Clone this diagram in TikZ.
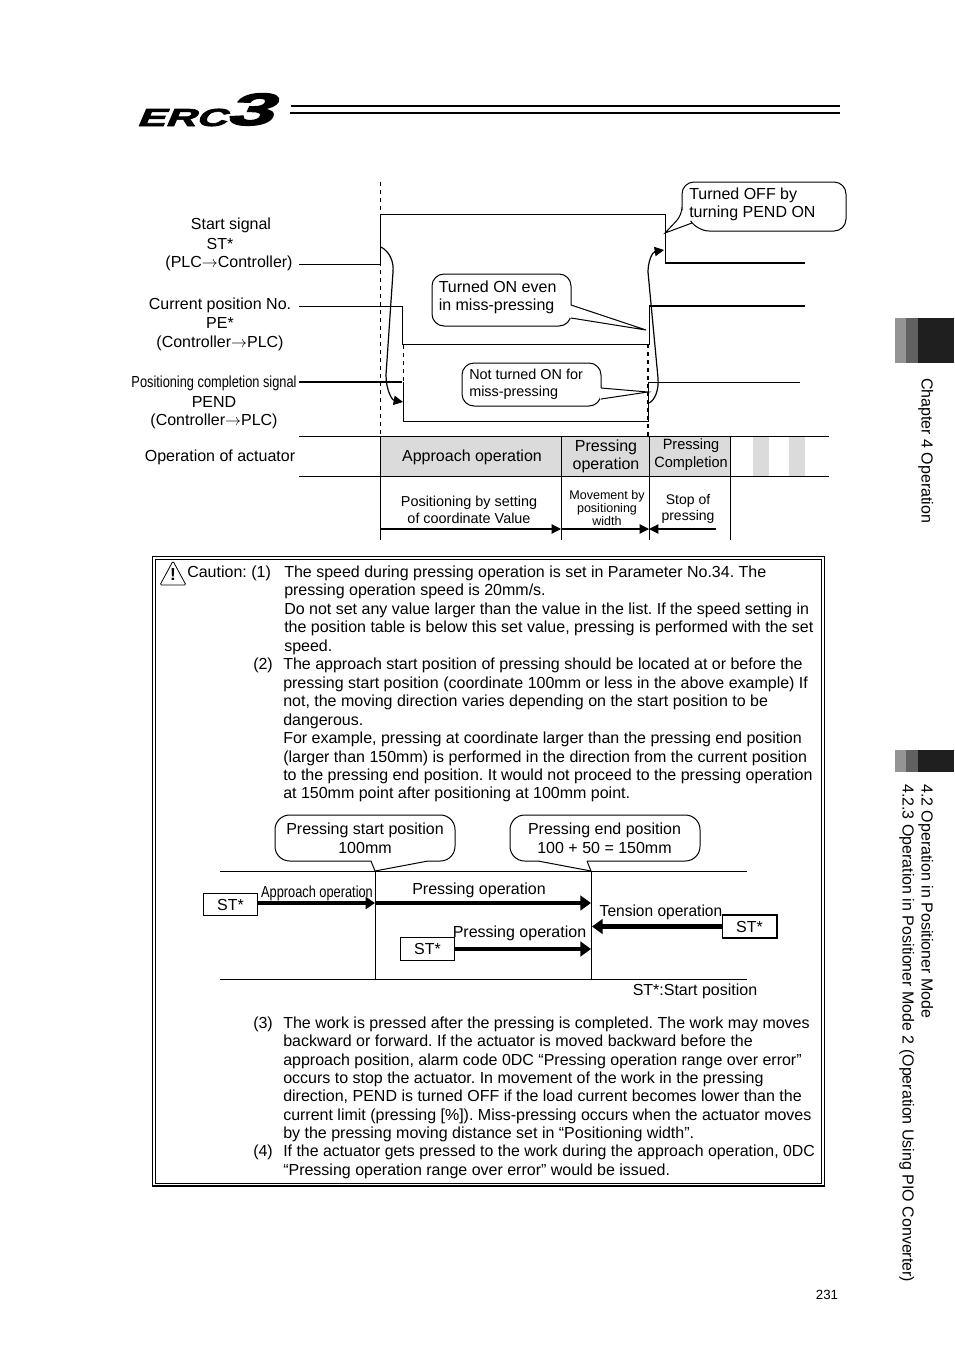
\documentclass[tikz,border=0pt]{standalone}
\usepackage{fontspec}
\setmainfont{Liberation Sans}
\newfontfamily\logofont[FakeBold=2.5,FakeSlant=.25]{Liberation Sans Bold}
\usetikzlibrary{arrows.meta}
\frenchspacing
\newcommand{\graycell}{black!14!white}
\newcommand{\tabdark}{black!88!white}
\newcommand{\tabmid}{black!62!white}
\newcommand{\tablight}{black!42!white}
\tikzset{
  thinline/.style={line width=.75pt},
  thickline/.style={line width=1.5pt},
  bubble/.style={line width=.75pt, rounded corners=9pt, fill=white},
  tailfill/.style={line width=.75pt, fill=white},
  bodytext/.style={anchor=base west, inner sep=0pt, font=\fontsize{12}{14}\selectfont},
  labeltext/.style={align=center, inner sep=0pt, font=\fontsize{12}{14}\selectfont},
  sidetext/.style={rotate=-90, anchor=base west, inner sep=0pt, font=\fontsize{12}{14}\selectfont},
  smalltext/.style={align=center, inner sep=0pt, font=\fontsize{10.8}{13}\selectfont},
  condensed/.style={inner sep=0pt, xscale=.8, font=\fontsize{12}{14}\selectfont},
  stbox/.style={draw, line width=.75pt, fill=white, minimum width=41pt, minimum height=17pt, inner sep=0pt, font=\fontsize{12}{14}\selectfont},
  thinarrow/.style={line width=.9pt, -{Triangle[length=7pt,width=7pt]}},
  movearrow/.style={line width=2.6pt, -{Triangle[length=7pt,width=9pt]}},
  pressarrow/.style={line width=3.6pt, -{Triangle[length=8pt,width=11pt]}},
}

\begin{document}
\begin{tikzpicture}[x=.75pt, y=-.75pt]
    \useasboundingbox (0, 0) rectangle (954, 1350);

    % header
    \node [inner sep=0pt, anchor=base west, xscale=1.72, font=\logofont\fontsize{18.5}{20}\selectfont] (logoletters) at (136, 126) {ERC};
    \node [inner sep=0pt, anchor=base east, xscale=1.85, font=\logofont\fontsize{34}{37}\selectfont] (logothree) at (272, 125) {3};
    \draw [line width=.8pt] (291, 106) -- (840, 106);
    \draw [line width=1.9pt] (290, 113) -- (840, 113);

    % side tabs
    \fill[\tablight] (895, 318) rectangle (906, 363);
    \fill[\tabmid] (906, 318) rectangle (918, 363);
    \fill[\tabdark] (918, 318) rectangle (954, 363);
    \fill[\tablight] (895, 750) rectangle (906, 772);
    \fill[\tabmid] (906, 750) rectangle (918, 772);
    \fill[\tabdark] (918, 750) rectangle (954, 772);
    \node [sidetext] (chaptertab) at (921.5, 378) {Chapter 4 Operation};
    \node [sidetext] (sectiontab) at (921.5, 784) {4.2 Operation in Positioner Mode};
    \node [sidetext] (subsectiontab) at (902.5, 784) {4.2.3 Operation in Positioner Mode 2 (Operation Using PIO Converter)};
    \node [inner sep=0pt, font=\fontsize{10}{12}\selectfont] (pagenumber) at (827, 1295) {231};

    % signal names
    \node [labeltext] (starttitle) at (231, 225.5) {Start signal};
    \node [labeltext] (startsymbol) at (220, 244) {ST*};
    \node [labeltext] (startdirection) at (229, 263) {(PLC$\rightarrow$Controller)};
    \node [labeltext] (currentname) at (220, 324.5) {Current position No.\\PE*\\(Controller$\rightarrow$PLC)};
    \node [condensed] (pendtitle) at (214, 383) {Positioning completion signal};
    \node [labeltext] (pendname) at (214, 412.5) {PEND\\(Controller$\rightarrow$PLC)};
    \node [labeltext] (actuatorname) at (220, 457.5) {Operation of actuator};

    % waveforms
    \draw[thinline, dashed] (380, 182) -- (380, 436);
    \draw[thinline, dashed] (403, 345) -- (403, 382);
    \draw[thickline, dashed] (648, 344) -- (648, 436);
    \draw[thinline] (299, 264) -- (380, 264) -- (380, 214) -- (665, 214) -- (665, 263);
    \draw[thickline] (665, 263) -- (805, 263);
    \draw[thinline] (299, 306) -- (402, 306) -- (402, 344) -- (649, 344) -- (649, 306);
    \draw[thickline] (649, 306) -- (805, 306);
    \draw[thickline] (299, 382) -- (402, 382);
    \draw[thinline] (403, 382) -- (403, 421) -- (648, 421) -- (648, 382) -- (800, 382);

    % curved arrows
    \draw[thinarrow] (381, 247) .. controls (390, 252) and (394, 262) .. (393, 272) -- (386, 375) .. controls (386, 390) and (392, 400) .. (403, 402);
    \draw[thinarrow] (649, 403) .. controls (655, 400) and (659, 390) .. (658, 378) -- (648, 272) .. controls (648, 262) and (652, 252) .. (664, 250);

    % callouts
    \draw[bubble] (682, 215) -- (682, 182) -- (846, 182) -- (846, 231) -- (697, 231) [sharp corners] -- (692, 223) -- (665, 233) [rounded corners=6pt] -- (682, 215) -- cycle;
    \draw[bubble] (571, 305) -- (571, 274) -- (432, 274) -- (432, 326) -- (571, 326) -- (571, 318);
    \fill[white] (570, 305) -- (646, 330) -- (570, 318) -- cycle;
    \draw[thinline] (571, 305) -- (646, 330) -- (571, 318);
    \draw[bubble] (601, 388) -- (601, 363) -- (462, 363) -- (462, 406) -- (601, 406) -- (601, 399);
    \fill[white] (600, 388) -- (648, 392) -- (600, 399) -- cycle;
    \draw[thinline] (601, 388) -- (648, 392) -- (601, 399);
    \node [bodytext] (offline) at (689, 199) {Turned OFF by};
    \node [bodytext] (pendline) at (689, 217) {turning PEND ON};
    \node [bodytext] (onleft) at (438.5, 292) {Turned ON even};
    \node [bodytext] (missline) at (438.5, 310) {in miss-pressing};
    \node [bodytext, font=\fontsize{10.8}{13}\selectfont] (notline) at (469, 379) {Not turned ON for};
    \node [bodytext, font=\fontsize{10.8}{13}\selectfont] (forline) at (469, 396) {miss-pressing};

    % operation table
    \fill[\graycell] (380, 436) rectangle (730, 476);
    \fill[\graycell] (753, 436) rectangle (769, 476);
    \fill[\graycell] (789, 436) rectangle (805, 476);
    \draw[thinline] (299, 436) -- (829, 436);
    \draw[thinline] (299, 476) -- (829, 476);
    \draw[thinline] (380, 436) -- (380, 540);
    \draw[thinline] (561, 436) -- (561, 540);
    \draw[thinline] (649, 436) -- (649, 540);
    \draw[thinline] (730, 436) -- (730, 540);
    \node [labeltext] (approachcell) at (472, 457.5) {Approach operation};
    \node [labeltext] (pressingcell) at (606, 456.5) {Pressing\\operation};
    \node [smalltext, font=\fontsize{11.2}{13.5}\selectfont, xscale=.97] (completioncell) at (691, 455) {Pressing\\Completion};
    \node [smalltext] (positioningcell) at (469, 510) {Positioning by setting\\of coordinate Value};
    \node [smalltext, font=\fontsize{9.4}{9.6}\selectfont] (movementcell) at (607, 508) {Movement by\\positioning\\width};
    \node [smalltext, font=\fontsize{10.5}{12}\selectfont] (stopcell) at (688, 509) {Stop of\\pressing};
    \coordinate (tableleft) at (381, 529);
    \coordinate (tablemid) at (561, 529);
    \coordinate (tablestop) at (649, 529);
    \coordinate (tableright) at (716, 529);
    \draw[thinarrow] (tableleft) -- (tablemid);
    \draw[thinarrow] (tablemid) -- (tablestop);
    \draw[thinarrow] (tableright) -- (tablestop);

    % caution frame
    \draw[line width=.9pt] (152.5, 556.5) rectangle (824.5, 1186);
    \draw[line width=.9pt] (155.5, 559.5) rectangle (821.5, 1183.5);
    \draw[line width=.6pt, rounded corners=1pt] (173, 561) -- (186, 585) -- (160, 585) -- cycle;
    \node [inner sep=0pt, font=\bfseries\fontsize{13}{13}\selectfont] (cautionmark) at (173, 575) {!};
    \node [bodytext] (cautionhead) at (187, 577) {Caution: (1)};
    \node [bodytext] (numbertwo) at (253, 669) {(2)};
    \node [bodytext] (numberthree) at (253, 1028) {(3)};
    \node [bodytext] (numberfour) at (253, 1156) {(4)};

    \foreach \ypos/\linetext in {
        577/{The speed during pressing operation is set in Parameter No.34. The},
        595/{pressing operation speed is 20mm/s.},
        614/{Do not set any value larger than the value in the list. If the speed setting in},
        632.5/{the position table is below this set value, pressing is performed with the set},
        651/{speed.}}
        \node [bodytext] (first\ypos) at (284, \ypos) {\linetext};
    \foreach \ypos/\linetext in {
        669/{The approach start position of pressing should be located at or before the},
        688/{pressing start position (coordinate 100mm or less in the above example) If},
        706/{not, the moving direction varies depending on the start position to be},
        725/{dangerous.},
        743/{For example, pressing at coordinate larger than the pressing end position},
        762/{(larger than 150mm) is performed in the direction from the current position},
        780/{to the pressing end position. It would not proceed to the pressing operation},
        798/{at 150mm point after positioning at 100mm point.},
        1028/{The work is pressed after the pressing is completed. The work may moves},
        1046/{backward or forward. If the actuator is moved backward before the},
        1065/{approach position, alarm code 0DC “Pressing operation range over error”},
        1083/{occurs to stop the actuator. In movement of the work in the pressing},
        1101/{direction, PEND is turned OFF if the load current becomes lower than the},
        1120/{current limit (pressing [\%]). Miss-pressing occurs when the actuator moves},
        1138/{by the pressing moving distance set in “Positioning width”.},
        1175/{“Pressing operation range over error” would be issued.}}
        \node [bodytext] (second\ypos) at (283, \ypos) {\linetext};
    \node [bodytext, xscale=.993] (fourthline) at (283, 1156) {If the actuator gets pressed to the work during the approach operation, 0DC};

    % stroke direction figure
    \coordinate (strokeleft) at (375, 871);
    \coordinate (strokeright) at (591, 871);
    \draw[thinline] (220, 871) -- (747, 871);
    \draw[thinline] (220, 979) -- (747, 979);
    \draw[thinline] (strokeleft) -- (375, 979);
    \draw[thinline] (strokeright) -- (591, 979);
    \draw[bubble, rounded corners=11pt] (428, 861) -- (455, 861) -- (455, 815) -- (275, 815) -- (275, 861) -- (371, 861);
    \filldraw[tailfill] (371, 861) -- (strokeleft) -- (428, 861);
    \draw[bubble, rounded corners=11pt] (538, 861) -- (510, 861) -- (510, 815) -- (700, 815) -- (700, 861) -- (587, 861);
    \filldraw[tailfill] (587, 861) -- (strokeright) -- (538, 861);
    \node [labeltext, font=\fontsize{12}{14.3}\selectfont] (startbubble) at (365, 838) {Pressing start position\\100mm};
    \node [labeltext, font=\fontsize{12}{14.3}\selectfont] (endbubble) at (604.5, 838) {Pressing end position\\100 + 50 = 150mm};

    \node [stbox] (stleft) at (230.5, 904.5) {ST*};
    \node [stbox, minimum width=40pt] (stmiddle) at (427.5, 949) {ST*};
    \node [stbox] (stright) at (749.5, 926.5) {ST*};
    \draw[line width=1.2pt] (stright.north west) -- (stright.north east) -- (stright.south east) -- (stright.south west);
    \coordinate (pressstart) at (375, 903);
    \coordinate (pressend) at (591, 903);
    \coordinate (middleend) at (591, 949);
    \coordinate (backend) at (592, 926.5);
    \draw[movearrow] (stleft.east |- pressstart) -- (pressstart);
    \draw[pressarrow] (pressstart) -- (pressend);
    \draw[pressarrow] (stmiddle.east) -- (middleend);
    \draw[pressarrow] (stright.west) -- (backend);
    \node [condensed] (approachtext) at (317, 893) {Approach operation};
    \node [labeltext] (pressingtext) at (479, 890) {Pressing operation};
    \node [labeltext, xscale=.97] (tensiontext) at (661, 912) {Tension operation};
    \node [labeltext] (pressingback) at (519.5, 933) {Pressing operation};
    \node [labeltext] (startnote) at (695, 991) {ST*:Start position};
\end{tikzpicture}
\end{document}
